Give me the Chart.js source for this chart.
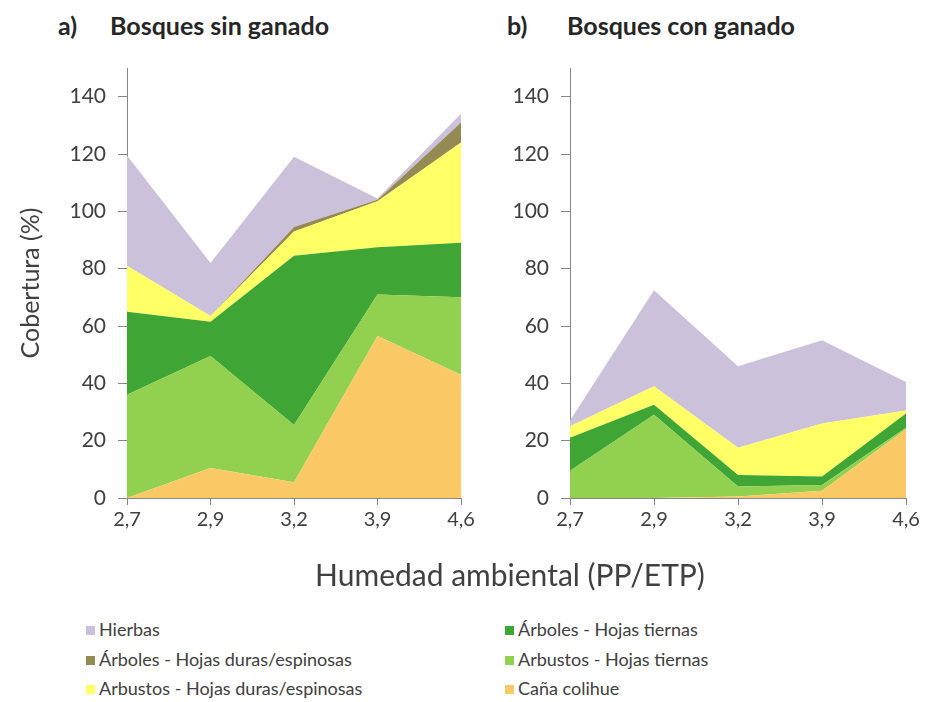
<!DOCTYPE html>
<html>
<head>
<meta charset="utf-8">
<script src="https://cdn.jsdelivr.net/npm/chart.js@4.4.1/dist/chart.umd.min.js"></script>
<style>
    body { margin: 0; background: #fff; font-family: Lato, "Open Sans", sans-serif; color: #404040; }
    #page { position: relative; width: 925px; height: 702px; overflow: hidden; }
    .panel { position: absolute; top: 0; height: 560px; }
    #panel-a { left: 0; width: 480px; }
    #panel-b { left: 480px; width: 445px; }
    .panel-title { position: absolute; top: 10px; font-weight: bold; font-size: 25px; color: #262626; white-space: nowrap; }
    #x-title { position: absolute; left: 0; width: 1020px; top: 556px; text-align: center; font-size: 30px; color: #404040; }
    .legend-item { position: absolute; font-size: 18px; color: #404040; white-space: nowrap; }
    .legend-item span { display: inline-block; width: 9px; height: 9px; margin-right: 4px; vertical-align: 1px; }
</style>
</head>
<body>
<div id="page">
    <div class="panel-title" style="left:58px">a)</div>
    <div class="panel-title" style="left:110px">Bosques sin ganado</div>
    <div class="panel-title" style="left:507px">b)</div>
    <div class="panel-title" style="left:567px">Bosques con ganado</div>
    <div class="panel" id="panel-a"><canvas id="chart-a"></canvas></div>
    <div class="panel" id="panel-b"><canvas id="chart-b"></canvas></div>
    <div id="x-title">Humedad ambiental (PP/ETP)</div>
    <div id="legend"></div>
</div>
<script>
// PP/ETP categories
const humedad = ["2,7", "2,9", "3,2", "3,9", "4,6"];
const yTicks = [0, 20, 40, 60, 80, 100, 120, 140];

// series names, bottom of the stack first
const seriesNames = [
    "Caña colihue",
    "Arbustos - Hojas tiernas",
    "Árboles - Hojas tiernas",
    "Arbustos - Hojas duras/espinosas",
    "Árboles - Hojas duras/espinosas",
    "Hierbas"
];
const seriesColors = ["#fbc866", "#92d050", "#3fa535", "#ffff66", "#948a54", "#ccc1da"];

// a) Bosques sin ganado
const sinCana = [0, 10.5, 5.5, 56.5, 43];
const sinArbustosTiernas = [36, 39, 20, 14.5, 27];
const sinArbolesTiernas = [29, 12, 59, 16.5, 19];
const sinArbustosDuras = [16, 2, 8.5, 16, 35];
const sinArbolesDuras = [0, 0, 1.5, 0.5, 7];
const sinHierbas = [38.5, 18.5, 24.5, 0.5, 3];

// b) Bosques con ganado
const conCana = [0, 0, 0.5, 2.5, 24];
const conArbustosTiernas = [9.5, 29, 3.5, 2, 0.5];
const conArbolesTiernas = [11.5, 3.5, 4, 3, 5];
const conArbustosDuras = [4, 6.5, 9.5, 18.5, 1];
const conArbolesDuras = [0, 0, 0, 0, 0];
const conHierbas = [2, 33.5, 28.5, 29, 10];

// legend order as in the figure (two columns)
const legendLeft = ["Hierbas", "Árboles - Hojas duras/espinosas", "Arbustos - Hojas duras/espinosas"];
const legendRight = ["Árboles - Hojas tiernas", "Arbustos - Hojas tiernas", "Caña colihue"];

Chart.defaults.font.family = "Lato, 'Open Sans', sans-serif";
Chart.defaults.color = "#404040";

const axisGray = "#868686";

function makeDatasets(series) {
    return series.map((values, i) => ({
        label: seriesNames[i],
        data: values,
        backgroundColor: seriesColors[i],
        borderColor: "transparent",
        borderWidth: 0,
        pointRadius: 0,
        tension: 0,
        fill: i === 0 ? "origin" : "-1"
    }));
}

function makePanel(canvasId, series, yAxisWidth, rightPad, showTitle) {
    return new Chart(document.getElementById(canvasId), {
        type: "line",
        data: { labels: humedad, datasets: makeDatasets(series) },
        options: {
            responsive: true,
            maintainAspectRatio: false,
            animation: false,
            layout: { padding: { top: 68, right: rightPad, bottom: 0, left: 0 } },
            plugins: { legend: { display: false }, tooltip: { enabled: false } },
            scales: {
                x: {
                    grid: { drawOnChartArea: false, drawTicks: true, tickLength: 7, color: axisGray },
                    border: { color: axisGray },
                    ticks: { font: { size: 20 }, padding: 3, maxRotation: 0 },
                    afterFit: scale => { scale.height = 62; }
                },
                y: {
                    stacked: true,
                    min: 0,
                    max: 150,
                    grid: { drawOnChartArea: false, drawTicks: true, tickLength: 9, color: axisGray },
                    border: { color: axisGray },
                    afterBuildTicks: scale => { scale.ticks = yTicks.map(v => ({ value: v })); },
                    ticks: { font: { size: 21 }, padding: 12 },
                    title: {
                        display: showTitle,
                        text: "Cobertura (%)",
                        font: { size: 25 },
                        padding: { top: 16, bottom: 0 }
                    },
                    afterFit: scale => { scale.width = yAxisWidth; }
                }
            }
        }
    });
}

makePanel("chart-a", [sinCana, sinArbustosTiernas, sinArbolesTiernas, sinArbustosDuras, sinArbolesDuras, sinHierbas], 127, 19, true);
makePanel("chart-b", [conCana, conArbustosTiernas, conArbolesTiernas, conArbustosDuras, conArbolesDuras, conHierbas], 90, 19, false);

// html legend
const legend = document.getElementById("legend");
const legendRows = [618, 648, 677];
function addLegendColumn(names, left) {
    names.forEach((name, i) => {
        const div = document.createElement("div");
        div.className = "legend-item";
        div.style.left = left + "px";
        div.style.top = legendRows[i] + "px";
        const box = document.createElement("span");
        box.style.background = seriesColors[seriesNames.indexOf(name)];
        div.appendChild(box);
        div.appendChild(document.createTextNode(name));
        legend.appendChild(div);
    });
}
addLegendColumn(legendLeft, 86);
addLegendColumn(legendRight, 505);
</script>
</body>
</html>
